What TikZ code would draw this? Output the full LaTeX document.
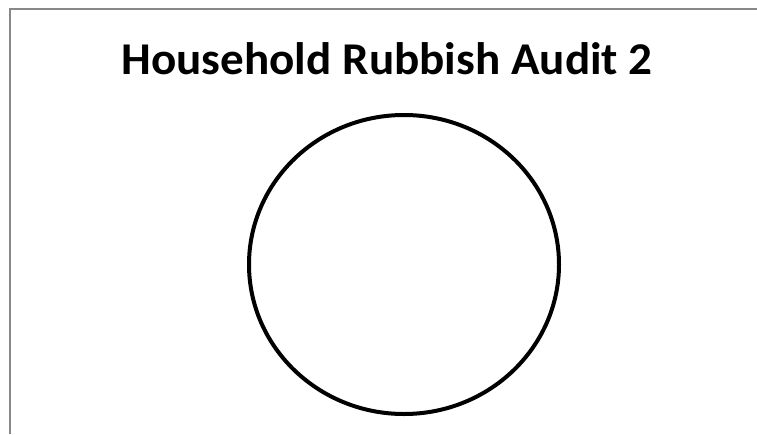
\documentclass[tikz,border=0pt]{standalone}
\usepackage{fontspec}
\setmainfont{Carlito}
\usetikzlibrary{shapes.geometric}
\definecolor{framegray}{HTML}{888888}
\begin{document}
\begin{tikzpicture}[x=1pt,y=-1pt,
  frame/.style={draw=framegray,line width=2pt},
  ring/.style={draw=black,line width=4pt},
  titletext/.style={font=\fontsize{45.5}{54}\selectfont\bfseries,anchor=base,inner sep=0pt,xscale=1.035}]
\useasboundingbox (0,0) rectangle (757,434);
\coordinate (tl) at (9.5,8.5);
\coordinate (tr) at (757,8.5);
\coordinate (bl) at (9.5,434);
\draw[frame] (tr) -- (tl) -- (bl);
\node[titletext] (title) at (387,74) {Household Rubbish Audit 2};
\node[ring,ellipse,minimum width=310,minimum height=299,inner sep=0pt] (circ) at (404,264.5) {};
\end{tikzpicture}
\end{document}
